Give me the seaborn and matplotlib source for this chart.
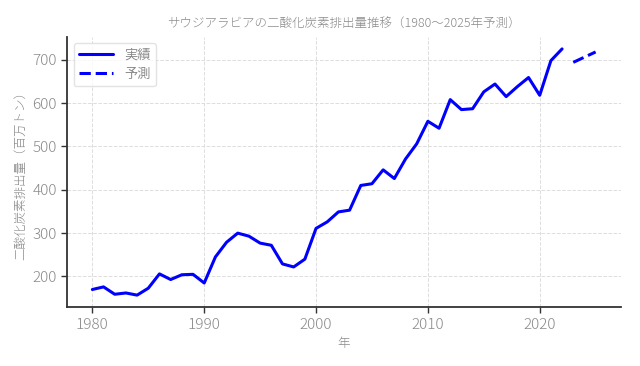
import matplotlib
matplotlib.use("Agg")
import matplotlib.pyplot as plt
import seaborn as sns
import pandas as pd

years_actual = list(range(1980, 2023))
emissions_actual = [170, 176, 159, 162, 157, 173, 206, 193, 204, 205, 185, 245, 279, 300, 293, 277, 272,
                    229, 222, 240, 311, 326, 349, 353, 410, 414, 446, 426, 471, 506, 558, 542, 608, 585,
                    587, 626, 644, 615, 638, 659, 618, 698, 725]
years_forecast = [2023, 2024, 2025]
emissions_forecast = [694, 706, 718]

title = "サウジアラビアの二酸化炭素排出量推移（1980〜2025年予測）"
xlabel = "年"
ylabel = "二酸化炭素排出量（百万トン）"
label_actual = "実績"
label_forecast = "予測"

sns.set_theme(style="white")
plt.rcParams['font.family'] = ['Noto Sans CJK JP', 'DejaVu Sans']

df_a = pd.DataFrame({"year": years_actual, "value": emissions_actual})
df_f = pd.DataFrame({"year": years_forecast, "value": emissions_forecast})

fig, ax = plt.subplots(figsize=(6.4, 3.66), dpi=100)
sns.lineplot(data=df_a, x="year", y="value", ax=ax, color="blue", linewidth=2.2, label=label_actual)
sns.lineplot(data=df_f, x="year", y="value", ax=ax, color="blue", linewidth=2.2, linestyle="--", label=label_forecast)

gray = "#8a8a8a"
ax.set_title(title, fontsize=9, color=gray, fontweight="light")
ax.set_xlabel(xlabel, fontsize=9, color=gray, fontweight="light")
ax.set_ylabel(ylabel, fontsize=9, color=gray, fontweight="light")
ax.set_xticks([1980, 1990, 2000, 2010, 2020])
ax.set_yticks([200, 300, 400, 500, 600, 700])
ax.tick_params(axis="both", labelsize=11, colors="#333333", labelcolor=gray, length=4, width=1, direction="out", left=True, bottom=True)
for lab in ax.get_xticklabels() + ax.get_yticklabels():
    lab.set_fontweight("light")
ax.grid(True, linestyle="--", color="#dddddd", linewidth=0.7)
for s in ["top", "right"]:
    ax.spines[s].set_visible(False)
for s in ["left", "bottom"]:
    ax.spines[s].set_color("#333333")
    ax.spines[s].set_linewidth(1.3)
leg = ax.legend(loc="upper left", fontsize=9.5, frameon=True, handlelength=2.6)
for t in leg.get_texts():
    t.set_color(gray)
leg.get_frame().set_edgecolor("#dddddd")
fig.subplots_adjust(left=0.105, right=0.97, bottom=0.16, top=0.9)
fig.savefig("out.png", dpi=100)
